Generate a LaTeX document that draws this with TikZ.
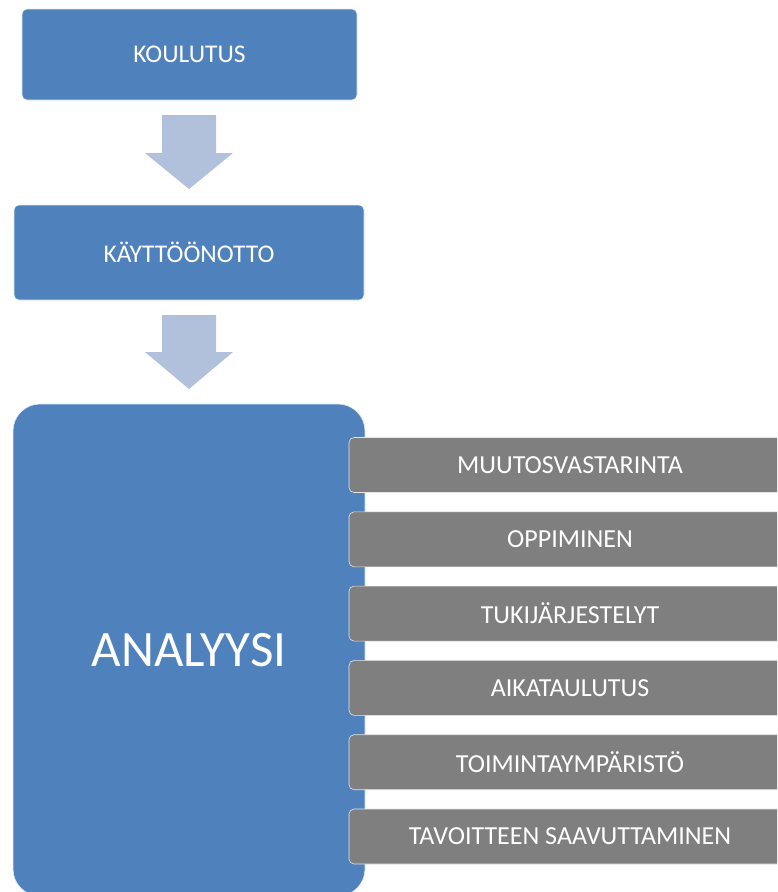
\documentclass[tikz,border=0pt]{standalone}
\usepackage{fontspec}
\setmainfont{Carlito}
\definecolor{stepblue}{HTML}{4F81BD}
\definecolor{arrowblue}{HTML}{B2C1DB}
\definecolor{itemgray}{HTML}{7F7F7F}
\tikzset{
  bluebox/.style={rectangle, rounded corners=5pt, fill=stepblue, draw=white!85!stepblue,
    line width=0.6pt, text=white, inner sep=0pt, font=\fontsize{25.5}{30}\selectfont},
  bigbox/.style={bluebox, rounded corners=27pt, font=\fontsize{51}{60}\selectfont},
  itembox/.style={rectangle, rounded corners=5pt, fill=itemgray, draw=white!80!itemgray,
    line width=0.6pt, text=white, inner sep=0pt, minimum width=442pt, minimum height=55pt,
    font=\fontsize{26}{30}\selectfont},
  blockarrow/.style={fill=arrowblue, draw=none}
}
\begin{document}
\begin{tikzpicture}[x=1pt, y=-1pt]
  \clip (0,0) rectangle (777,892);
  \fill[white] (0,0) rectangle (777,892);

  % process steps
  \node[bluebox, minimum width=335pt, minimum height=91pt] (koulutus) at (189.5,54.5) {KOULUTUS};
  \node[bluebox, minimum width=350pt, minimum height=95pt] (kayttoonotto) at (189,252.5) {KÄYTTÖÖNOTTO};
  \node[bigbox, minimum width=352pt, minimum height=492pt] (analyysi) at (189,650) {ANALYYSI};

  % block arrows between the steps
  \fill[blockarrow] (162,115) -- (216,115) -- (216,153) -- (233,153) -- (189,189)
    -- (145,153) -- (162,153) -- cycle;
  \fill[blockarrow] (162,315) -- (216,315) -- (216,352) -- (233,352) -- (189,389)
    -- (145,352) -- (162,352) -- cycle;

  % analysis topics
  \foreach \k/\name/\label in {0/muutos/MUUTOSVASTARINTA, 1/oppiminen/OPPIMINEN,
      2/tuki/TUKIJÄRJESTELYT, 3/aikataulu/AIKATAULUTUS,
      4/ymparisto/TOIMINTAYMPÄRISTÖ, 5/tavoite/TAVOITTEEN SAAVUTTAMINEN}
    \node[itembox] (\name) at (570, 465+\k*74.3) {\label};
\end{tikzpicture}
\end{document}
